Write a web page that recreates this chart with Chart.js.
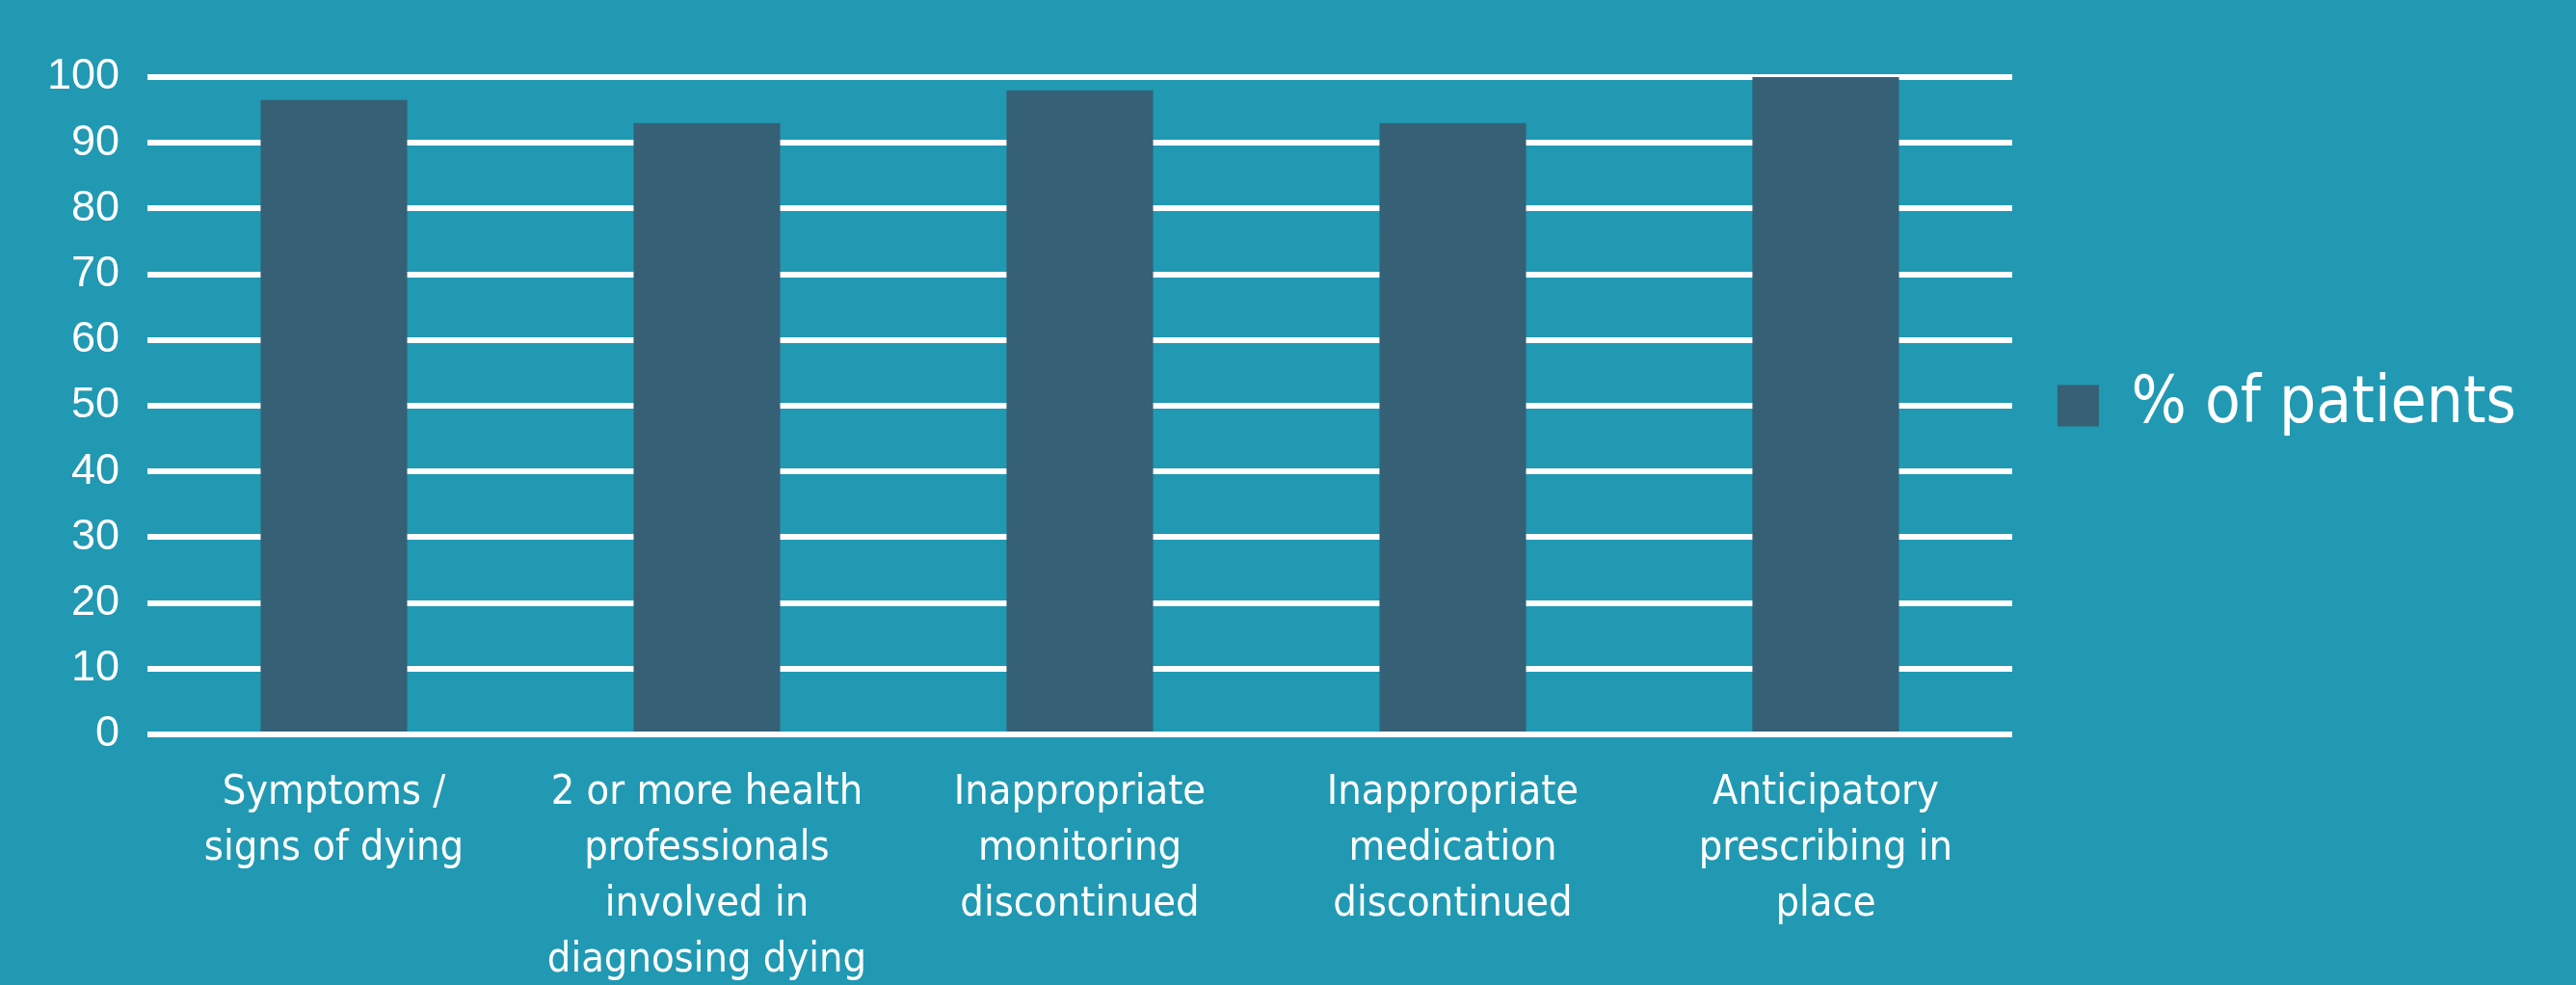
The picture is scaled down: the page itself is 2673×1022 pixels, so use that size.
<!DOCTYPE html>
<html>
<head>
<meta charset="utf-8">
<script src="https://cdn.jsdelivr.net/npm/chart.js@4.4.1/dist/chart.umd.min.js"></script>
<style>
  html, body { margin: 0; padding: 0; background: #2199b3; }
  #wrap { width: 2673px; height: 1022px; position: relative; }
</style>
</head>
<body>
<div id="wrap"><canvas id="chart"></canvas></div>
<script>
// categories (multi-line, as wrapped in the original)
const categories = [
  ['Symptoms /', 'signs of dying'],
  ['2 or more health', 'professionals', 'involved in', 'diagnosing dying'],
  ['Inappropriate', 'monitoring', 'discontinued'],
  ['Inappropriate', 'medication', 'discontinued'],
  ['Anticipatory', 'prescribing in', 'place']
];
const seriesName = '% of patients';
const patientPct = [96.5, 93, 98, 93, 100];
const yTicks = [0, 10, 20, 30, 40, 50, 60, 70, 80, 90, 100];

const BAR = '#366075';
const NARROW = "'Liberation Sans Narrow', 'Arial Narrow', 'DejaVu Sans Condensed', sans-serif";

const ctx = document.getElementById('chart').getContext('2d');
new Chart(ctx, {
  type: 'bar',
  data: {
    labels: categories,
    datasets: [{
      label: seriesName,
      data: patientPct,
      backgroundColor: BAR,
      borderWidth: 0,
      barPercentage: 0.393,
      categoryPercentage: 1
    }]
  },
  options: {
    responsive: true,
    maintainAspectRatio: false,
    devicePixelRatio: 1,
    animation: false,
    layout: { padding: { top: 80, right: 52, bottom: 0, left: 0 } },
    plugins: {
      tooltip: { enabled: false },
      legend: {
        position: 'right',
        align: 'center',
        fullSize: false,
        labels: {
          color: '#ffffff',
          font: { family: NARROW, size: 67 },
          boxWidth: 43,
          boxHeight: 43,
          padding: 47
        }
      }
    },
    scales: {
      x: {
        grid: { display: false, drawTicks: false },
        border: { display: false },
        ticks: {
          color: '#ffffff',
          font: { family: NARROW, size: 43, lineHeight: '58px' },
          autoSkip: false,
          maxRotation: 0,
          padding: 32
        },
        afterFit: (scale) => { scale.height = 260; }
      },
      y: {
        min: 0,
        max: 100,
        grid: { color: '#ffffff', lineWidth: 6, drawTicks: false },
        border: { display: false },
        afterBuildTicks: (scale) => {
          scale.ticks = yTicks.map(v => ({ value: v }));
        },
        ticks: {
          color: '#ffffff',
          font: { family: "'Liberation Sans', Arial, sans-serif", size: 45 },
          padding: 29
        },
        afterFit: (scale) => { scale.width = 153; }
      }
    }
  }
});
</script>
</body>
</html>
